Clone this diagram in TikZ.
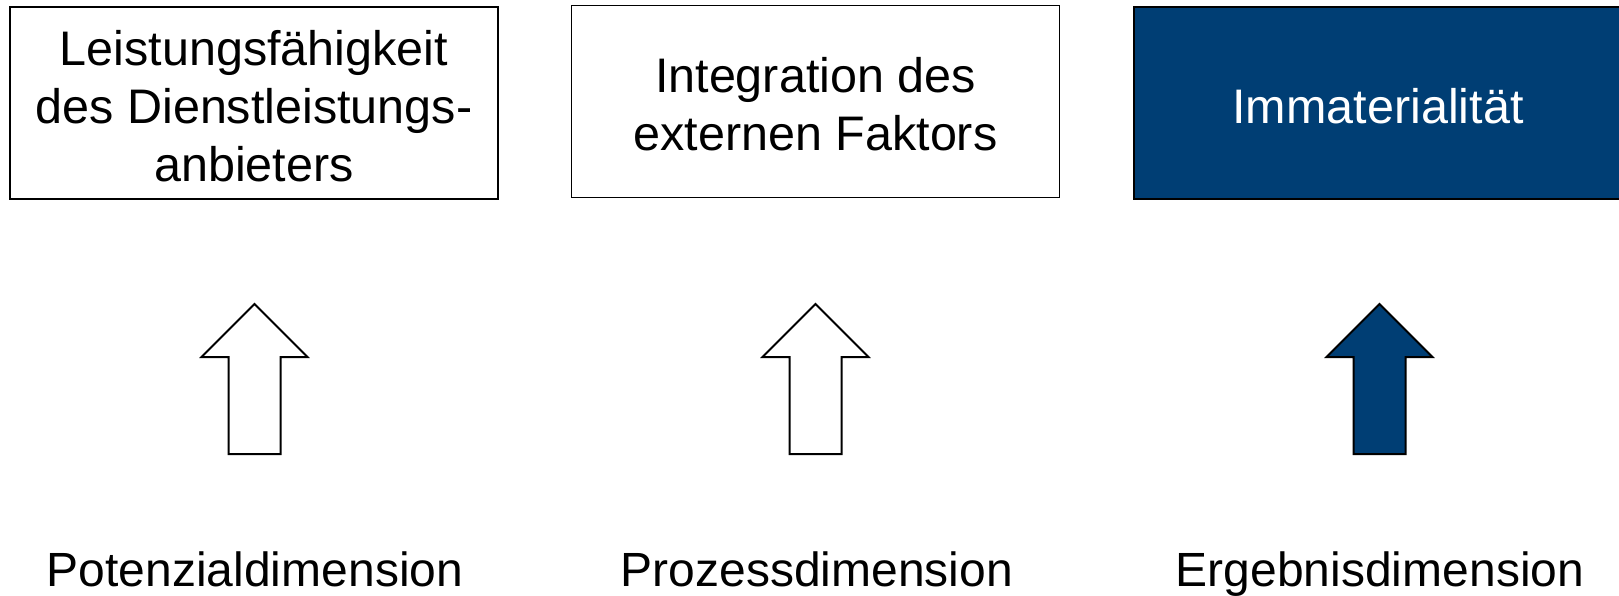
\documentclass[tikz,border=0pt]{standalone}
\usepackage{fontspec}
\setmainfont{Liberation Sans}
\definecolor{navy}{HTML}{003E74}
\tikzset{
  box/.style={draw=black, line width=1.5pt, minimum width=488pt, minimum height=192pt,
    inner sep=0pt},
  boxtext/.style={inner sep=0pt, align=center, yshift=-3pt,
    font=\fontsize{48.5}{58}\selectfont},
  dimlabel/.style={anchor=base, inner sep=0pt, font=\fontsize{48}{58}\selectfont},
  uparrow/.style={draw=black, line width=2pt, line join=miter, fill=white},
}
% block arrow pointing up: tip at #2 (x), top y 304, head base 357, bottom 454
\newcommand{\blockarrow}[2][]{%
  \draw[uparrow,#1] (#2,304) -- (#2+53,357) -- (#2+26,357) -- (#2+26,454)
    -- (#2-26,454) -- (#2-26,357) -- (#2-53,357) -- cycle;}
\begin{document}
\begin{tikzpicture}[x=1pt,y=-1pt]
  \useasboundingbox (0,0) rectangle (1619,595);
  \clip (0,0) rectangle (1619,595);

  % top row of characteristics
  \node[box] (pot) at (254,103) {};
  \node[boxtext] (pottext) at (pot.center) {Leistungsfähigkeit\\des Dienstleistungs-\\anbieters};
  \node[box] (proz) at (815.5,101.5) {};
  \node[boxtext] (proztext) at (proz.center) {Integration des\\externen Faktors};
  \node[box, fill=navy] (erg) at (1378,103) {};
  \node[boxtext, text=white] (ergtext) at (erg.center) {Immaterialität};

  % arrows
  \blockarrow{254.5}
  \blockarrow{815.5}
  \blockarrow[fill=navy]{1379.5}

  % dimension labels
  \node[dimlabel] (lpot) at (255,586) {Potenzialdimension};
  \node[dimlabel] (lproz) at (817,586) {Prozessdimension};
  \node[dimlabel] (lerg) at (1380,586) {Ergebnisdimension};
\end{tikzpicture}
\end{document}
